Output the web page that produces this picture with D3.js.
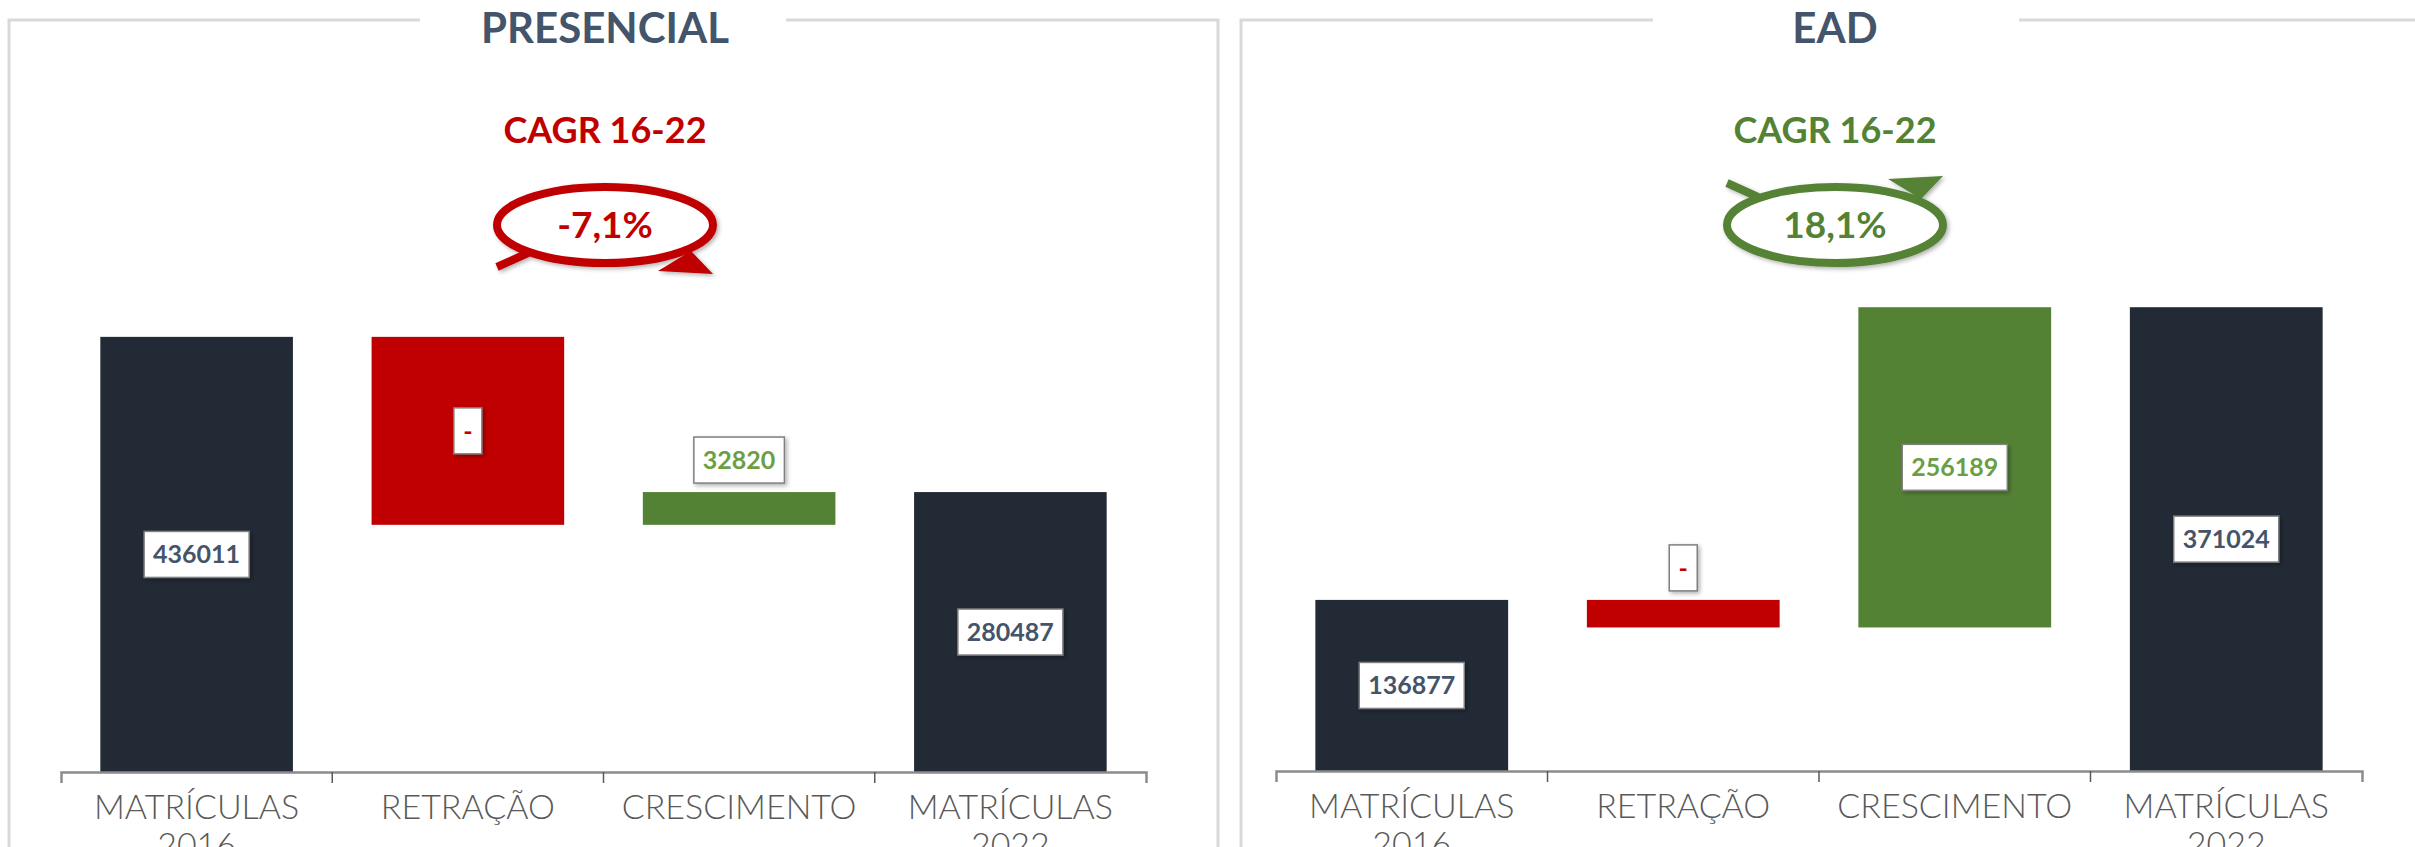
<!DOCTYPE html>
<html>
<head>
<meta charset="utf-8">
<script src="https://cdn.jsdelivr.net/npm/d3@7"></script>
<style>
  html, body { margin: 0; padding: 0; background: #fff; overflow: hidden; }
  svg { display: block; font-family: Lato, "Open Sans", sans-serif; }
</style>
</head>
<body>
<div id="chart"></div>
<script>
// categories shared by both waterfalls
var categories = ["MATRÍCULAS 2016", "RETRAÇÃO", "CRESCIMENTO", "MATRÍCULAS 2022"];
var kinds = ["total", "down", "up", "total"];

// values
var presencialValues = [436011, 188344, 32820, 280487];
var presencialLabels = ["436011", "-", "32820", "280487"];
var eadValues = [136877, 22042, 256189, 371024];
var eadLabels = ["136877", "-", "256189", "371024"];

var panelTitles = ["PRESENCIAL", "EAD"];
var cagrTitle = "CAGR 16-22";
var cagrValues = ["-7,1%", "18,1%"];
var yMax = [500000, 400000];

var W = 2415, H = 847;
var colors = { total: "#222a35", down: "#c00000", up: "#548235" };
var labelColors = { total: "#44546a", down: "#c00000", up: "#6b9e45" };

var svg = d3.select("#chart").append("svg")
  .attr("width", W)
  .attr("height", H);

var defs = svg.append("defs");
defs.append("filter").attr("id", "shadow")
  .attr("x", "-20%").attr("y", "-20%").attr("width", "150%").attr("height", "150%")
  .append("feDropShadow")
  .attr("dx", 2).attr("dy", 2).attr("stdDeviation", 2)
  .attr("flood-color", "#000").attr("flood-opacity", 0.3);

// layout of the two panels
var panels = [
  { title: panelTitles[0], values: presencialValues, labels: presencialLabels, cagr: cagrValues[0],
    color: "#c00000", dir: -1, yMax: yMax[0],
    box: [9, 20, 1218, 900], gap: [420, 786], cx: 605,
    xr: [61, 1146], yr: [772, 273] },
  { title: panelTitles[1], values: eadValues, labels: eadLabels, cagr: cagrValues[1],
    color: "#548235", dir: 1, yMax: yMax[1],
    box: [1241, 20, 2460, 900], gap: [1653, 2019], cx: 1835,
    xr: [1276, 2362], yr: [771, 271] }
];

panels.forEach(drawPanel);

function drawPanel(p) {
  var g = svg.append("g");

  // frame with a gap for the title
  g.append("rect")
    .attr("x", p.box[0]).attr("y", p.box[1])
    .attr("width", p.box[2] - p.box[0]).attr("height", p.box[3] - p.box[1])
    .attr("fill", "none").attr("stroke", "#d9d9d9").attr("stroke-width", 3);
  g.append("rect")
    .attr("x", p.gap[0]).attr("y", p.box[1] - 4)
    .attr("width", p.gap[1] - p.gap[0]).attr("height", 8)
    .attr("fill", "#fff");

  g.append("text")
    .attr("x", p.cx).attr("y", 43)
    .attr("text-anchor", "middle")
    .attr("font-size", 42).attr("font-weight", 700)
    .attr("fill", "#44546a")
    .text(p.title);

  g.append("text")
    .attr("x", p.cx).attr("y", 143)
    .attr("text-anchor", "middle")
    .attr("font-size", 36).attr("font-weight", 700)
    .attr("fill", p.color)
    .text(cagrTitle);

  // CAGR ellipse with arrow
  var ex = p.cx, ey = 225, s = -p.dir;
  var badge = g.append("g").attr("filter", "url(#shadow)");
  badge.append("line")
    .attr("x1", ex - 108).attr("y1", ey + s * 42)
    .attr("x2", ex - 77).attr("y2", ey + s * 28)
    .attr("stroke", p.color).attr("stroke-width", 8);
  badge.append("path")
    .attr("d", "M" + (ex + 53) + "," + (ey + s * 46) +
      "L" + (ex + 108) + "," + (ey + s * 49) +
      "L" + (ex + 86) + "," + (ey + s * 26) + "Z")
    .attr("fill", p.color);
  badge.append("ellipse")
    .attr("cx", ex).attr("cy", ey)
    .attr("rx", 108).attr("ry", 38)
    .attr("fill", "#fff").attr("stroke", p.color).attr("stroke-width", 8);
  g.append("text")
    .attr("x", ex).attr("y", 238)
    .attr("text-anchor", "middle")
    .attr("font-size", 37).attr("font-weight", 700)
    .attr("fill", p.color)
    .text(p.cagr);

  // scales
  var x = d3.scaleBand()
    .domain(categories)
    .range(p.xr)
    .paddingInner(0.29)
    .paddingOuter(0.145);
  var y = d3.scaleLinear()
    .domain([0, p.yMax])
    .range(p.yr);

  // waterfall steps
  var running = 0;
  var steps = p.values.map(function (v, i) {
    var k = kinds[i], lo, hi;
    if (k === "total") { lo = 0; hi = v; running = v; }
    else if (k === "down") { hi = running; lo = running - v; running = lo; }
    else { lo = running; hi = running + v; running = hi; }
    return { cat: categories[i], kind: k, lo: lo, hi: hi, label: p.labels[i] };
  });

  g.selectAll("rect.bar")
    .data(steps)
    .enter()
    .append("rect")
    .attr("class", "bar")
    .attr("x", function (d) { return x(d.cat); })
    .attr("y", function (d) { return y(d.hi); })
    .attr("width", x.bandwidth())
    .attr("height", function (d) { return y(d.lo) - y(d.hi); })
    .attr("fill", function (d) { return colors[d.kind]; });

  // X axis
  var xAxis = g.append("g")
    .attr("transform", "translate(0," + p.yr[0] + ")")
    .call(d3.axisBottom(x).tickSize(0).tickSizeOuter(11).tickFormat(""));
  xAxis.select(".domain").attr("stroke", "#8c8c8c").attr("stroke-width", 2.5);
  var step = x.step();
  categories.slice(1).forEach(function (c) {
    var bx = x(c) - step * x.paddingInner() / 2;
    xAxis.append("line")
      .attr("x1", bx).attr("x2", bx)
      .attr("y1", 0).attr("y2", 11)
      .attr("stroke", "#595959").attr("stroke-width", 1.5);
  });

  var catText = g.selectAll("text.cat")
    .data(categories)
    .enter()
    .append("text")
    .attr("class", "cat")
    .attr("text-anchor", "middle")
    .attr("font-size", 34).attr("font-weight", 300)
    .attr("fill", "#595959")
    .attr("x", function (d) { return x(d) + x.bandwidth() / 2; })
    .attr("y", p.yr[0] + 47);
  catText.each(function (d) {
    var t = d3.select(this);
    d.split(" ").forEach(function (w, i) {
      t.append("tspan")
        .attr("x", x(d) + x.bandwidth() / 2)
        .attr("dy", i === 0 ? 0 : 38)
        .text(w);
    });
  });

  // data labels in white boxes
  steps.forEach(function (d) {
    var top = y(d.hi), bot = y(d.lo);
    var cx = x(d.cat) + x.bandwidth() / 2;
    var cy = (bot - top) < 60 ? top - 32 : (top + bot) / 2;
    var lg = g.append("g");
    var box = lg.append("rect").attr("fill", "#fff")
      .attr("stroke", "#7f7f7f").attr("stroke-width", 1.5)
      .attr("filter", "url(#shadow)");
    var t = lg.append("text")
      .attr("x", cx).attr("y", cy + 9)
      .attr("text-anchor", "middle")
      .attr("font-size", 25).attr("font-weight", 700)
      .attr("fill", labelColors[d.kind])
      .text(d.label);
    var tw = t.node().getComputedTextLength();
    var bw = Math.max(tw + 18, 28);
    box.attr("x", cx - bw / 2).attr("y", cy - 23)
      .attr("width", bw).attr("height", 46);
  });
}
</script>
</body>
</html>
